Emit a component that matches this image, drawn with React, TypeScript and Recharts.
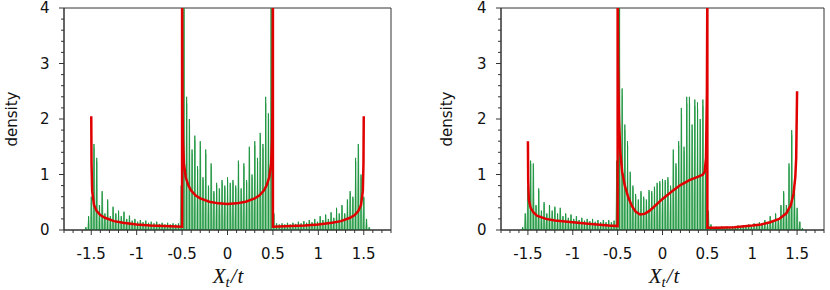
import React from 'react';
import { ComposedChart, XAxis, YAxis, Line, Area, ReferenceArea } from 'recharts';

// spikes sit on a regular grid of X_t/t values
const spikeStart = -1.56;
const spikeStep = 0.03;

const spikesLeft = [
  0.05, 0.25, 0.6, 1.55, 1.3, 0.45, 0.7, 0.3, 0.55, 0.25, 0.42, 0.3, 0.35, 0.25, 0.33, 0.2, 0.26, 0.17,
  0.2, 0.15, 0.18, 0.14, 0.17, 0.13, 0.15, 0.12, 0.15, 0.11, 0.13, 0.1, 0.13, 0.1, 0.12, 0.1, 0.12, 0.8,
  4.2, 2.4, 2.0, 1.45, 1.7, 1.15, 1.6, 0.95, 1.45, 0.8, 1.2, 0.7, 0.85, 0.75, 0.9, 0.8, 0.95, 0.85,
  0.9, 0.8, 1.25, 0.75, 1.2, 0.9, 1.5, 1.0, 1.6, 1.3, 1.75, 1.55, 2.4, 2.1, 4.2, 0.3, 0.12, 0.1,
  0.12, 0.1, 0.13, 0.1, 0.13, 0.11, 0.15, 0.12, 0.16, 0.13, 0.18, 0.14, 0.2, 0.15, 0.25, 0.18, 0.28, 0.2,
  0.32, 0.22, 0.4, 0.3, 0.45, 0.3, 0.55, 0.7, 0.6, 1.3, 1.55, 1.0, 0.6, 0.2, 0.05,
];

const spikesRight = [
  0.05, 0.3, 0.8, 1.25, 1.2, 0.45, 0.75, 0.35, 0.5, 0.3, 0.45, 0.35, 0.42, 0.3, 0.4, 0.25, 0.3, 0.22,
  0.28, 0.2, 0.25, 0.18, 0.22, 0.17, 0.2, 0.16, 0.2, 0.15, 0.18, 0.14, 0.18, 0.14, 0.18, 0.14, 0.17, 1.25,
  4.2, 2.55, 1.9, 1.6, 1.05, 0.8, 0.65, 0.55, 0.7, 0.6, 0.55, 0.72, 0.7, 0.78, 0.85, 0.88, 0.92, 0.9,
  0.95, 0.8, 1.45, 1.2, 1.6, 2.2, 1.5, 2.4, 2.4, 1.9, 2.35, 2.3, 2.0, 2.35, 1.6, 0.35, 0.1, 0.05,
  0.06, 0.05, 0.06, 0.05, 0.06, 0.05, 0.07, 0.06, 0.08, 0.06, 0.09, 0.07, 0.1, 0.08, 0.12, 0.09, 0.14, 0.1,
  0.18, 0.12, 0.25, 0.15, 0.3, 0.2, 0.45, 0.7, 0.45, 1.2, 1.8, 0.8, 0.4, 0.15, 0.03,
];

// limiting density (red)
const curveLeftX = [
  -1.5, -1.497, -1.49, -1.47, -1.44, -1.4, -1.35, -1.25, -1.15, -1.0, -0.85, -0.7, -0.5,
  -0.5, -0.495, -0.49, -0.48, -0.46, -0.43, -0.4, -0.35, -0.3, -0.2, -0.1, 0,
  0.1, 0.2, 0.3, 0.35, 0.4, 0.43, 0.46, 0.48, 0.49, 0.495, 0.5,
  0.5, 0.7, 0.85, 1.0, 1.15, 1.25, 1.35, 1.4, 1.44, 1.47, 1.49, 1.497, 1.5,
];
const curveLeftY = [
  2.05, 1.2, 0.7, 0.45, 0.34, 0.27, 0.22, 0.16, 0.13, 0.1, 0.08, 0.07, 0.06,
  4.5, 2.2, 1.6, 1.2, 0.95, 0.8, 0.71, 0.62, 0.57, 0.51, 0.48, 0.47,
  0.48, 0.51, 0.57, 0.62, 0.71, 0.8, 0.95, 1.2, 1.6, 2.2, 4.5,
  0.06, 0.07, 0.08, 0.1, 0.13, 0.16, 0.22, 0.27, 0.34, 0.45, 0.7, 1.2, 2.05,
];

const curveRightX = [
  -1.5, -1.497, -1.49, -1.47, -1.44, -1.4, -1.3, -1.2, -1.0, -0.8, -0.6, -0.5,
  -0.5, -0.495, -0.485, -0.47, -0.45, -0.42, -0.38, -0.34, -0.3, -0.25, -0.2, -0.15, -0.1, 0,
  0.1, 0.2, 0.3, 0.4, 0.45, 0.47, 0.485, 0.495, 0.5,
  0.5, 0.6, 0.8, 1.0, 1.1, 1.2, 1.3, 1.38, 1.43, 1.46, 1.48, 1.49, 1.5,
];
const curveRightY = [
  1.6, 0.9, 0.55, 0.4, 0.32, 0.26, 0.2, 0.17, 0.14, 0.11, 0.08, 0.07,
  4.5, 3.0, 2.0, 1.4, 1.05, 0.8, 0.58, 0.43, 0.33, 0.28, 0.29, 0.34, 0.41, 0.56,
  0.69, 0.81, 0.9, 0.96, 1.0, 1.05, 1.3, 2.5, 4.5,
  0.04, 0.04, 0.05, 0.08, 0.1, 0.14, 0.2, 0.3, 0.45, 0.65, 0.95, 1.3, 2.5,
];

const xMajor = [-1.5, -1, -0.5, 0, 0.5, 1, 1.5];
const xLabels = ['-1.5', '-1', '-0.5', '0', '0.5', '1', '1.5'];
const yMajor = [0, 1, 2, 3, 4];
const yLabels = ['0', '1', '2', '3', '4'];

const xTicks = Array.from({ length: 37 }, (_, i) => Math.round((-1.8 + i * 0.1) * 10) / 10);
const yTicks = Array.from({ length: 21 }, (_, i) => Math.round(i * 0.2 * 10) / 10);

const axisColor = '#333';
const tickFont = 'DejaVu Sans, sans-serif';

const XTick = (props: any) => {
  const { x, y, payload } = props;
  const k = xMajor.findIndex(v => Math.abs(v - payload.value) < 1e-6);
  return (
    <g>
      <line x1={x} x2={x} y1={y} y2={y + (k >= 0 ? 5 : 3)} stroke={axisColor} />
      {k >= 0 && (
        <text x={x} y={y + 28.5} textAnchor="middle" fontSize={15} fontFamily={tickFont} fill="#111">
          {xLabels[k]}
        </text>
      )}
    </g>
  );
};

const YTick = (props: any) => {
  const { x, y, payload } = props;
  const k = yMajor.findIndex(v => Math.abs(v - payload.value) < 1e-6);
  return (
    <g>
      <line x1={x} x2={x - (k >= 0 ? 5 : 3)} y1={y} y2={y} stroke={axisColor} />
      {k >= 0 && (
        <text x={x - 14.5} y={y + 5} textAnchor="end" fontSize={15} fontFamily={tickFont} fill="#111">
          {yLabels[k]}
        </text>
      )}
    </g>
  );
};

interface PanelProps {
  left: number;
  yAxisWidth: number;
  rightMargin: number;
  spikes: number[];
  cx: number[];
  cy: number[];
}

const Panel: React.FC<PanelProps> = ({ left, yAxisWidth, rightMargin, spikes, cx, cy }) => {
  const impulses: { x: number; y: number }[] = [];
  const haze: { x: number; y: number }[] = [];
  spikes.forEach((h, i) => {
    const x = spikeStart + i * spikeStep;
    impulses.push({ x, y: 0 }, { x, y: h }, { x, y: 0 });
    haze.push({ x: x - 0.015, y: 0 }, { x: x + 0.003, y: h * 0.95 }, { x: x + 0.015, y: 0 });
  });
  const curve = cx.map((x, i) => ({ x, y: cy[i] }));

  return (
    <div style={{ position: 'absolute', left, top: 0 }}>
      <ComposedChart width={415} height={290} margin={{ top: 8, right: rightMargin, bottom: 0, left: 0 }}>
        <XAxis
          type="number"
          dataKey="x"
          domain={[-1.8, 1.8]}
          allowDataOverflow
          ticks={xTicks}
          interval={0}
          tickSize={0}
          tickMargin={0}
          tickLine={false}
          tick={XTick}
          axisLine={{ stroke: axisColor }}
          height={60}
        />
        <YAxis
          type="number"
          dataKey="y"
          domain={[0, 4]}
          allowDataOverflow
          ticks={yTicks}
          interval={0}
          tickSize={0}
          tickMargin={0}
          tickLine={false}
          tick={YTick}
          axisLine={{ stroke: axisColor }}
          width={yAxisWidth}
        />
        <Area
          data={haze}
          dataKey="y"
          type="linear"
          stroke="#7cc58c"
          strokeWidth={0.6}
          fill="#a6dbb2"
          fillOpacity={0.7}
          isAnimationActive={false}
          dot={false}
          activeDot={false}
        />
        <Line
          data={impulses}
          dataKey="y"
          type="linear"
          stroke="#1d9441"
          strokeWidth={0.9}
          dot={false}
          activeDot={false}
          isAnimationActive={false}
        />
        <Line
          data={curve}
          dataKey="y"
          type="linear"
          stroke="#e00000"
          strokeWidth={2.5}
          dot={false}
          activeDot={false}
          isAnimationActive={false}
        />
        <ReferenceArea x1={-1.8} x2={1.8} y1={0} y2={4} fill="none" stroke={axisColor} strokeWidth={1} ifOverflow="visible" />
      </ComposedChart>
    </div>
  );
};

const Titles = ({ left, yLabelX, xCenter }: { left: number; yLabelX: number; xCenter: number }) => (
  <svg width={415} height={290} style={{ position: 'absolute', left, top: 0, pointerEvents: 'none' }}>
    <text
      x={yLabelX}
      y={119}
      transform={`rotate(-90 ${yLabelX} 119)`}
      textAnchor="middle"
      dominantBaseline="central"
      fontSize={15}
      fontFamily={tickFont}
      fill="#111"
    >
      density
    </text>
    <text x={xCenter} y={283} textAnchor="middle" fontSize={21} fontFamily="Liberation Serif, serif" fontStyle="italic" fill="#111">
      X<tspan fontSize={15} dy={4}>t</tspan>
      <tspan dy={-4} dx={1}>/</tspan>
      <tspan dx={1}>t</tspan>
    </text>
  </svg>
);

export default function App() {
  return (
    <div style={{ position: 'fixed', left: 0, top: 0, width: 830, height: 290, background: '#fff', overflow: 'hidden' }}>
      <Panel left={0} yAxisWidth={64} rightMargin={24} spikes={spikesLeft} cx={curveLeftX} cy={curveLeftY} />
      <Panel left={415} yAxisWidth={86} rightMargin={6} spikes={spikesRight} cx={curveRightX} cy={curveRightY} />
      <Titles left={0} yLabelX={12} xCenter={228} />
      <Titles left={415} yLabelX={32} xCenter={249} />
    </div>
  );
}
